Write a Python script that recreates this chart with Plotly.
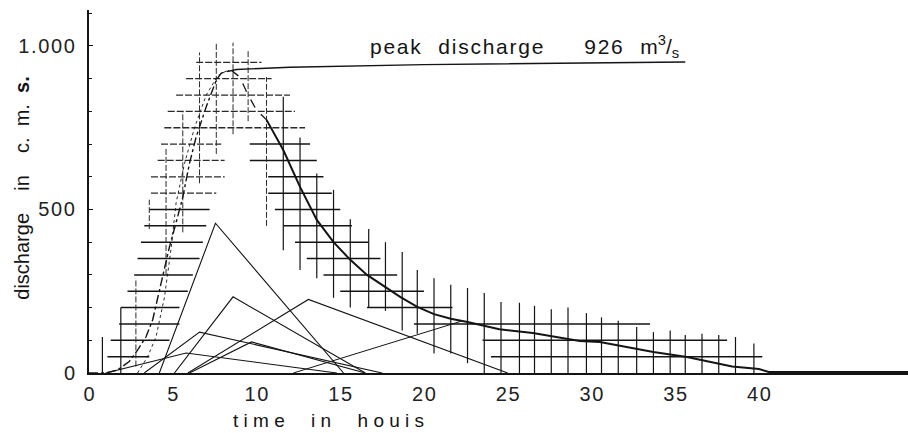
import plotly.graph_objects as go

# ---- axis ticks -------------------------------------------------------
x_ticks = [0, 5, 10, 15, 20, 25, 30, 35, 40]
y_ticks = [0, 500, 1000]
y_tick_labels = ["0", "500", "1.000"]

# ---- triangular component hydrographs (hours, m3/s) ------------------
tri_start = [4.2, 5.1, 5.9, 3.3, 6.0, 1.0]
tri_peak_t = [7.55, 8.6, 13.1, 6.6, 9.7, 5.8]
tri_peak_q = [458, 233, 225, 125, 95, 61]
tri_end = [15.2, 16.5, 25.0, 17.5, 16.5, 14.8]

# late component, rising limb only
late_t = [12.2, 22.2]
late_q = [0, 158]

# ---- resulting flood hydrograph --------------------------------------
rise_t = [0, 1.0, 1.7, 2.4, 2.9, 3.4, 3.8, 4.3, 4.8, 5.2, 5.6, 6.0, 6.4, 7.0, 7.6, 7.9, 8.5]
rise_q = [0, 0, 9, 35, 70, 110, 162, 270, 385, 460, 538, 641, 722, 814, 896, 917, 926]

rise2_t = [2.9, 3.5, 4.0, 4.5, 4.9, 5.2, 5.7, 6.3, 7.0, 7.7, 8.3]
rise2_q = [0, 50, 110, 230, 380, 520, 640, 750, 850, 910, 926]

fall_t = [8.5, 9.0, 9.5, 10.0, 10.6, 11.6, 12.6, 13.6, 14.6, 15.6, 16.6, 17.6, 18.6,
          19.6, 20.6, 21.6, 22.6, 24.5, 26.5, 29.3, 30.5, 33.7, 35.7, 38.4, 40.0, 40.6, 48.9]
fall_q = [926, 905, 850, 804, 774, 682, 569, 468, 400, 346, 300, 265, 232,
          202, 180, 166, 156, 134, 122, 98, 95, 64, 49, 20, 12, 3, 3]

# peak marker line
peak_t = [8.3, 8.8, 12.0, 20.0, 35.6]
peak_q = [922, 928, 935, 943, 951]
peak_value = 926

# ---- computation grid: horizontal steps (level, from, to) -------------
h_level = [950, 900, 850, 800, 750, 700, 700, 650, 650, 600, 600, 550, 550,
           500, 500, 450, 450, 400, 400, 350, 350, 300, 300, 250, 250,
           200, 200, 150, 150, 100, 100, 50, 50]
h_from = [6.4, 5.8, 5.2, 4.7, 4.5, 4.3, 9.6, 4.1, 9.6, 3.7, 10.7, 3.7, 10.7,
          3.6, 11.1, 3.3, 11.6, 3.1, 12.3, 2.9, 13.0, 2.7, 14.0, 2.3, 15.0,
          1.9, 16.6, 1.8, 19.4, 1.3, 23.5, 1.1, 24.0]
h_to = [10.3, 10.9, 12.0, 12.3, 12.9, 7.9, 13.2, 8.1, 13.6, 8.1, 14.0, 7.6, 14.5,
        7.2, 15.0, 7.0, 15.7, 6.8, 16.7, 6.6, 17.4, 6.2, 18.4, 5.9, 20.0,
        5.4, 21.7, 5.4, 33.5, 4.8, 38.1, 3.6, 40.2]

# ---- computation grid: vertical steps (hour, low, high) ---------------
v_time = [0.8, 1.9, 2.8, 3.6, 4.6, 5.6, 6.6, 7.6, 8.6, 9.5, 10.6, 11.6, 12.6,
          13.6, 14.6, 15.6, 16.7, 17.7, 18.7, 19.6, 20.6, 21.6, 22.6, 23.6,
          24.6, 25.7, 26.6, 27.6, 28.6, 29.7, 30.6, 31.6, 32.7, 33.7, 34.7,
          35.6, 36.6, 37.6, 38.6, 39.7]
v_low = [0, 0, 20, 440, 300, 430, 580, 670, 730, 770, 450, 375, 315,
         290, 230, 200, 200, 190, 130, 120, 60, 60, 30, 0,
         0, 0, 0, 0, 0, 0, 0, 0, 0, 0, 0,
         0, 0, 0, 0, 0]
v_high = [110, 200, 290, 530, 690, 800, 980, 1010, 1010, 985, 905, 845, 720,
          610, 560, 470, 440, 400, 370, 315, 290, 270, 260, 245,
          217, 215, 205, 195, 200, 183, 170, 160, 141, 125, 130,
          116, 120, 116, 110, 90]

INK = "#141414"
HAIR = "\u200a"
NB = "&nbsp;"
fig = go.Figure()


def add_path(xs, ys, width=1.0, dash="solid", color=INK):
    fig.add_trace(go.Scatter(x=xs, y=ys, mode="lines", hoverinfo="skip",
                             line=dict(color=color, width=width, dash=dash),
                             showlegend=False))


def spaced(word):
    return HAIR.join(word)


# horizontal grid steps: those around the crest drawn broken
hx_solid, hy_solid, hx_dash, hy_dash = [], [], [], []
for q, a, b in zip(h_level, h_from, h_to):
    if q >= 750 or (a < 9 and q >= 550):
        hx_dash += [a, b, None]; hy_dash += [q, q, None]
    else:
        hx_solid += [a, b, None]; hy_solid += [q, q, None]
add_path(hx_solid, hy_solid, width=1.5)
add_path(hx_dash, hy_dash, width=1.3, dash="7px,2px", color="#2a2a2a")

# vertical grid steps
vx_solid, vy_solid, vx_dash, vy_dash = [], [], [], []
for t, lo, hi in zip(v_time, v_low, v_high):
    if 2.5 < t < 11:
        vx_dash += [t, t, None]; vy_dash += [lo, hi, None]
    else:
        vx_solid += [t, t, None]; vy_solid += [lo, hi, None]
add_path(vx_solid, vy_solid, width=1.2)
add_path(vx_dash, vy_dash, width=1.0, dash="6px,2px", color="#2a2a2a")

# component triangles
tx, ty = [], []
for s, pt, pq, e in zip(tri_start, tri_peak_t, tri_peak_q, tri_end):
    tx += [s, pt, e, None]; ty += [0, pq, 0, None]
add_path(tx, ty, width=1.1)
add_path(late_t, late_q, width=1.0)

# flood hydrograph
add_path(rise_t, rise_q, width=1.4, dash="dashdot")
add_path(rise2_t, rise2_q, width=0.9, dash="dot")
split = fall_t.index(10.6)
add_path(fall_t[:split + 1], fall_q[:split + 1], width=1.3, dash="dash")
add_path(fall_t[split:], fall_q[split:], width=2.0)

# peak line and label
add_path(peak_t, peak_q, width=1.3)
peak_text = (spaced("peak") + NB * 3 + spaced("discharge") + NB * 7
             + spaced(str(peak_value)) + NB * 3 + "m<sup>3</sup>/<sub>s</sub>")
fig.add_annotation(x=16.66, y=997, xref="x", yref="y", xanchor="left", yanchor="middle",
                   text=peak_text, showarrow=False, font=dict(size=21, color=INK))

tick_font = dict(family="Liberation Sans, Arial, sans-serif", size=20, color="#222")

fig.update_layout(
    width=908, height=433,
    margin=dict(l=89, r=0, t=10, b=60),
    paper_bgcolor="white", plot_bgcolor="white",
    font=dict(family="Liberation Sans, Arial, sans-serif", color=INK),
    xaxis=dict(range=[0, 48.9], showline=True, linecolor=INK, linewidth=2,
               showgrid=False, zeroline=False, ticks="",
               tickvals=x_ticks, ticktext=[spaced(str(v)) for v in x_ticks],
               tickfont=tick_font, ticklabelstandoff=2),
    yaxis=dict(range=[0, 1110], showline=True, linecolor=INK, linewidth=2,
               showgrid=False, zeroline=False, ticks="inside", ticklen=4,
               tickcolor=INK, tickvals=y_ticks,
               ticktext=[spaced(s) for s in y_tick_labels],
               tickfont=tick_font, ticklabelstandoff=8,
               minor=dict(dtick=100, ticks="inside", ticklen=3, tickcolor=INK)),
)

# axis titles
fig.add_annotation(xref="paper", yref="paper", x=0.292, y=-0.132,
                   xanchor="center", yanchor="middle", showarrow=False,
                   text="t i m e     i n     h o u i s",
                   font=dict(size=19, color=INK))
fig.add_annotation(xref="paper", yref="paper", x=-0.082, y=0.51,
                   xanchor="center", yanchor="middle", showarrow=False, textangle=-90,
                   text="discharge    in    c. &nbsp;m. &nbsp;<b>s.</b>",
                   font=dict(size=20, color=INK))

fig.write_html("out.html")
